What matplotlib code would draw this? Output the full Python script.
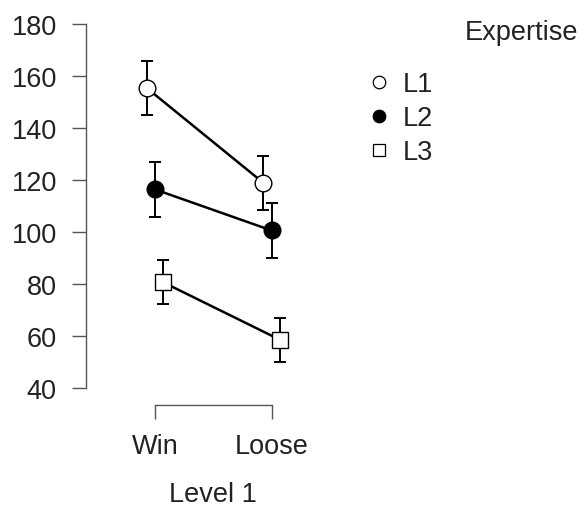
import matplotlib.pyplot as plt
from matplotlib.lines import Line2D

plt.rcParams['font.family'] = ['Liberation Sans', 'DejaVu Sans']

niveles = ["Win", "Loose"]
grupos = ["L1", "L2", "L3"]
medias = {
    "L1": [155.4, 118.9],
    "L2": [116.4, 100.6],
    "L3": [80.7, 58.6],
}
errores = {
    "L1": [10.5, 10.4],
    "L2": [10.7, 10.7],
    "L3": [8.4, 8.5],
}
desplaz = {"L1": -0.07, "L2": 0.0, "L3": 0.07}
marcas = {"L1": ("o", "white"), "L2": ("o", "black"), "L3": ("s", "white")}

fig = plt.figure(figsize=(5.85, 5.1), dpi=100)
ax = fig.add_axes([0.147, 0.204, 0.417, 0.747])

for g in grupos:
    xs = [i + desplaz[g] for i in range(len(niveles))]
    m, fc = marcas[g]
    ax.errorbar(xs, medias[g], yerr=errores[g], fmt="none", ecolor="black",
                elinewidth=1.4, capsize=4, capthick=1.4, zorder=2, clip_on=False)
    ax.plot(xs, medias[g], color="black", lw=1.8, zorder=3, clip_on=False)
    ax.plot(xs, medias[g], linestyle="none", marker=m, markersize=12 if m == "o" else 11,
            markerfacecolor=fc, markeredgecolor="black", markeredgewidth=1.0,
            zorder=4, clip_on=False)

ax.set_xlim(-0.59, 1.5)
ax.set_ylim(33.5, 180)
ax.set_yticks(range(40, 181, 20))
ax.set_xticks(range(len(niveles)))
ax.set_xticklabels(niveles)

for s in ["top", "right"]:
    ax.spines[s].set_visible(False)
ax.spines["left"].set_bounds(40, 180)
ax.spines["bottom"].set_bounds(0, 1)
for s in ["left", "bottom"]:
    ax.spines[s].set_color("#555555")
    ax.spines[s].set_linewidth(1.0)

ax.tick_params(axis="both", direction="out", length=10, width=1.0, color="#555555",
               labelsize=19.5, labelcolor="#222222")
ax.tick_params(axis="y", pad=11)
ax.tick_params(axis="x", pad=10)

ax.set_xlabel("Level 1", fontsize=19.5, color="#222222")
xl = ax.get_xlim()
ax.xaxis.set_label_coords((0.5 - xl[0]) / (xl[1] - xl[0]), -0.2)

handles = []
for g in grupos:
    m, fc = marcas[g]
    handles.append(Line2D([], [], linestyle="none", marker=m, markersize=9 if m == "o" else 8,
                          markerfacecolor=fc, markeredgecolor="black", markeredgewidth=0.9))
fig.legend(handles, grupos, loc="upper left", bbox_to_anchor=(0.61, 0.885),
           frameon=False, fontsize=19.5, handlelength=0.6, handletextpad=0.6,
           labelspacing=0.3, borderpad=0, labelcolor="#222222")
fig.text(0.795, 0.935, "Expertise", fontsize=19.5, color="#222222", va="center", ha="left")

fig.savefig("out.png", dpi=100)
